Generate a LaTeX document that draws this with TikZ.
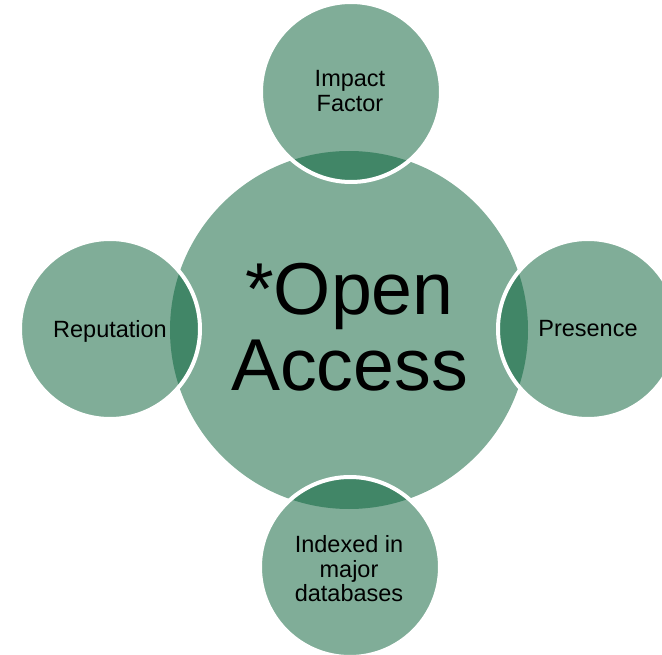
\documentclass[tikz,border=0pt]{standalone}
\usepackage{fontspec}
\setmainfont{Liberation Sans}
\definecolor{lightg}{RGB}{128,173,152}
\definecolor{darkg}{RGB}{65,134,103}
\begin{document}
\begin{tikzpicture}[x=1pt,y=-1pt,
  bigtext/.style={inner sep=0pt, align=center, text=black, font=\fontsize{73.5}{76}\selectfont},
  smalltext/.style={inner sep=0pt, align=center, text=black, font=\fontsize{23.5}{24.5}\selectfont}]
\useasboundingbox (0,0) rectangle (662,655);
% geometry
\coordinate (cM) at (349,330);
\coordinate (cT) at (351,92);
\coordinate (cB) at (350,567);
\coordinate (cL) at (110,329);
\coordinate (cR) at (588,329);
% main circle
\fill[lightg] (cM) circle[radius=179pt];
% satellites
\foreach \c in {cT,cB,cL,cR}{
  \fill[lightg] (\c) circle[radius=90pt];
}
% overlap lenses
\begin{scope}
  \clip (cM) circle[radius=179pt];
  \foreach \c in {cT,cB,cL,cR}{
    \fill[darkg] (\c) circle[radius=90pt];
  }
\end{scope}
% white outlines of satellites
\foreach \c in {cT,cB,cL,cR}{
  \draw[white, line width=4pt] (\c) circle[radius=90pt];
}
% texts
\node[bigtext] (tMain) at (349.5,327.5) {*Open\\Access};
\node[smalltext] (tTop) at (350,91) {Impact\\Factor};
\node[smalltext] (tBot) at (349,569) {Indexed in\\major\\databases};
\node[smalltext] (tLeft) at (110,331) {Reputation};
\node[smalltext] (tRight) at (588,328.5) {Presence};
\end{tikzpicture}
\end{document}
